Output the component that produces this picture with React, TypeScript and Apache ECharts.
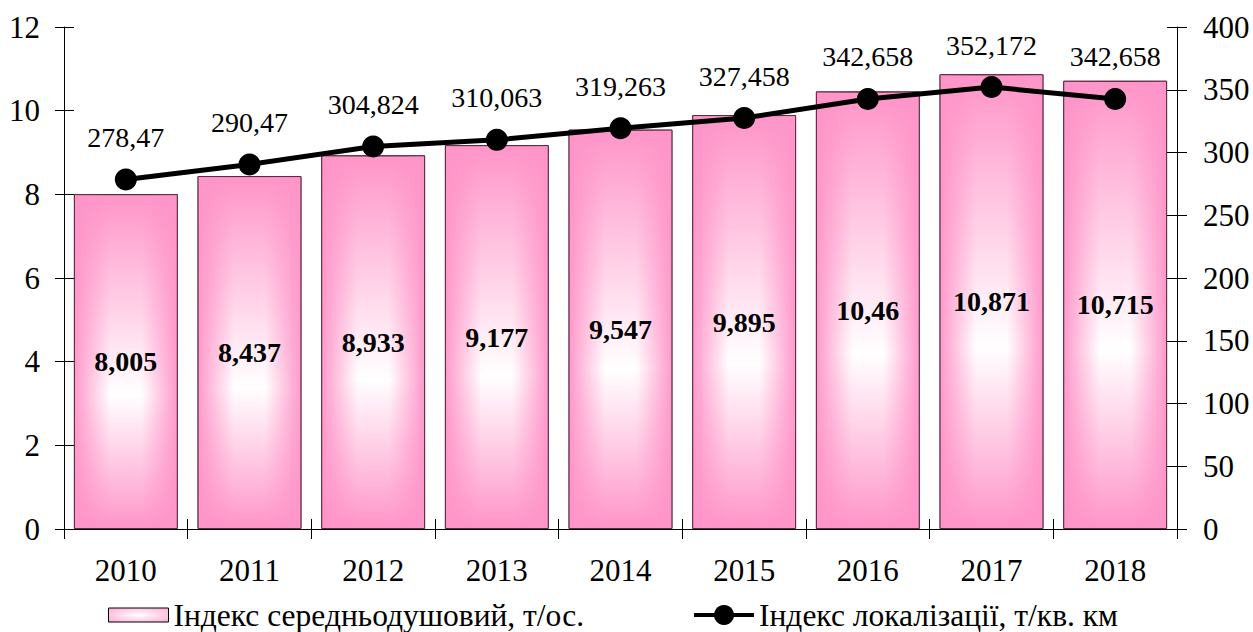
import React, { useEffect, useRef } from "react";
import * as echarts from "echarts";

const years = ["2010", "2011", "2012", "2013", "2014", "2015", "2016", "2017", "2018"];
const perCapita = [8.005, 8.437, 8.933, 9.177, 9.547, 9.895, 10.46, 10.871, 10.715];
const localization = [278.47, 290.47, 304.824, 310.063, 319.263, 327.458, 342.658, 352.172, 342.658];
const barName = "Індекс середньодушовий, т/ос.";
const lineName = "Індекс локалізації, т/кв. км";

const FONT = "'Liberation Serif', 'Times New Roman', serif";
const PINK = "#ff94c8";
const comma = (v: number) => String(v).replace(".", ",");

export default function App() {
  const ref = useRef<HTMLDivElement>(null);
  useEffect(() => {
    if (!ref.current) return;
    const chart = echarts.init(ref.current, null, { renderer: "svg" });
    const vGrad = new echarts.graphic.LinearGradient(0, 0, 0, 1, [
      { offset: 0, color: PINK },
      { offset: 0.6, color: "#ffffff" },
      { offset: 1, color: PINK },
    ]);
    const hGrad = new echarts.graphic.LinearGradient(0, 0, 1, 0, [
      { offset: 0, color: "rgba(255,148,200,0.95)" },
      { offset: 0.35, color: "rgba(255,148,200,0)" },
      { offset: 0.65, color: "rgba(255,148,200,0)" },
      { offset: 1, color: "rgba(255,148,200,0.95)" },
    ]);
    const legendGrad = new echarts.graphic.RadialGradient(0.5, 0.5, 0.9, [
      { offset: 0, color: "#ffffff" },
      { offset: 1, color: PINK },
    ]);
    const axisLine = { show: true, lineStyle: { color: "#000", width: 1 } };
    const yBase = (min: number, max: number, interval: number, pos: string) => ({
      type: "value",
      position: pos,
      min,
      max,
      interval,
      splitLine: { show: false },
      axisLine,
    });
    chart.setOption({
      animation: false,
      textStyle: { fontFamily: FONT },
      grid: {
        left: 64,
        right: 76,
        top: 27,
        bottom: 103,
        containLabel: false,
        outerBoundsMode: "none",
      },
      legend: {
        top: 594,
        left: 103,
        itemWidth: 60,
        itemHeight: 25,
        itemGap: 108,
        lineStyle: { width: 4, color: "#000" },
        textStyle: { fontFamily: FONT, fontSize: 31.5, color: "#000" },
        data: [
          {
            name: barName,
            icon: "path://M0,0H60V14H0Z",
            itemStyle: { color: legendGrad, borderColor: "#000", borderWidth: 1 },
          },
          { name: lineName },
        ],
      },
      xAxis: [
        {
          type: "category",
          data: years,
          position: "bottom",
          axisLine,
          axisTick: { show: true, length: 10, lineStyle: { color: "#000" } },
          axisLabel: { fontFamily: FONT, fontSize: 31, color: "#000", margin: 26 },
        },
        {
          type: "category",
          data: years,
          position: "bottom",
          axisLine: { show: false },
          axisTick: { show: true, inside: true, length: 10, lineStyle: { color: "#000" } },
          axisLabel: { show: false },
        },
      ],
      yAxis: [
        {
          ...yBase(0, 12, 2, "left"),
          axisTick: { show: true, length: 9, lineStyle: { color: "#000" } },
          axisLabel: { fontFamily: FONT, fontSize: 31, color: "#000", margin: 24 },
        },
        {
          ...yBase(0, 400, 50, "right"),
          axisTick: { show: true, length: 10, lineStyle: { color: "#000" } },
          axisLabel: { fontFamily: FONT, fontSize: 31, color: "#000", margin: 26, align: "left" },
        },
        {
          ...yBase(0, 12, 2, "left"),
          axisLine: { show: false },
          axisTick: { show: true, inside: true, length: 10, lineStyle: { color: "#000" } },
          axisLabel: { show: false },
        },
        {
          ...yBase(0, 400, 50, "right"),
          axisLine: { show: false },
          axisTick: { show: true, inside: true, length: 10, lineStyle: { color: "#000" } },
          axisLabel: { show: false },
        },
      ],
      series: [
        {
          name: barName,
          type: "bar",
          data: perCapita,
          xAxisIndex: 0,
          yAxisIndex: 0,
          barCategoryGap: "16%",
          barGap: "-100%",
          symbolKeepAspect: true,
          itemStyle: { color: vGrad, borderColor: "#5a2a40", borderWidth: 1 },
          z: 2,
        },
        {
          name: "overlay",
          type: "bar",
          data: perCapita,
          xAxisIndex: 0,
          yAxisIndex: 0,
          barCategoryGap: "16%",
          barGap: "-100%",
          silent: true,
          itemStyle: { color: hGrad, borderColor: "#5a2a40", borderWidth: 1 },
          label: {
            show: true,
            position: "inside",
            fontFamily: FONT,
            fontSize: 28,
            fontWeight: "bold",
            color: "#000",
            formatter: (p: any) => comma(p.value),
          },
          z: 3,
        },
        {
          name: lineName,
          type: "line",
          data: localization,
          xAxisIndex: 0,
          yAxisIndex: 1,
          symbol: "circle",
          symbolSize: 22,
          lineStyle: { color: "#000", width: 5 },
          itemStyle: { color: "#000" },
          label: {
            show: true,
            position: "top",
            distance: 17,
            fontFamily: FONT,
            fontSize: 28,
            color: "#000",
            formatter: (p: any) => comma(p.value),
          },
          z: 5,
        },
      ],
    });
    return () => chart.dispose();
  }, []);
  return (
    <div
      ref={ref}
      style={{ position: "fixed", left: 0, top: 0, width: 1253, height: 632, background: "#fff" }}
    />
  );
}
